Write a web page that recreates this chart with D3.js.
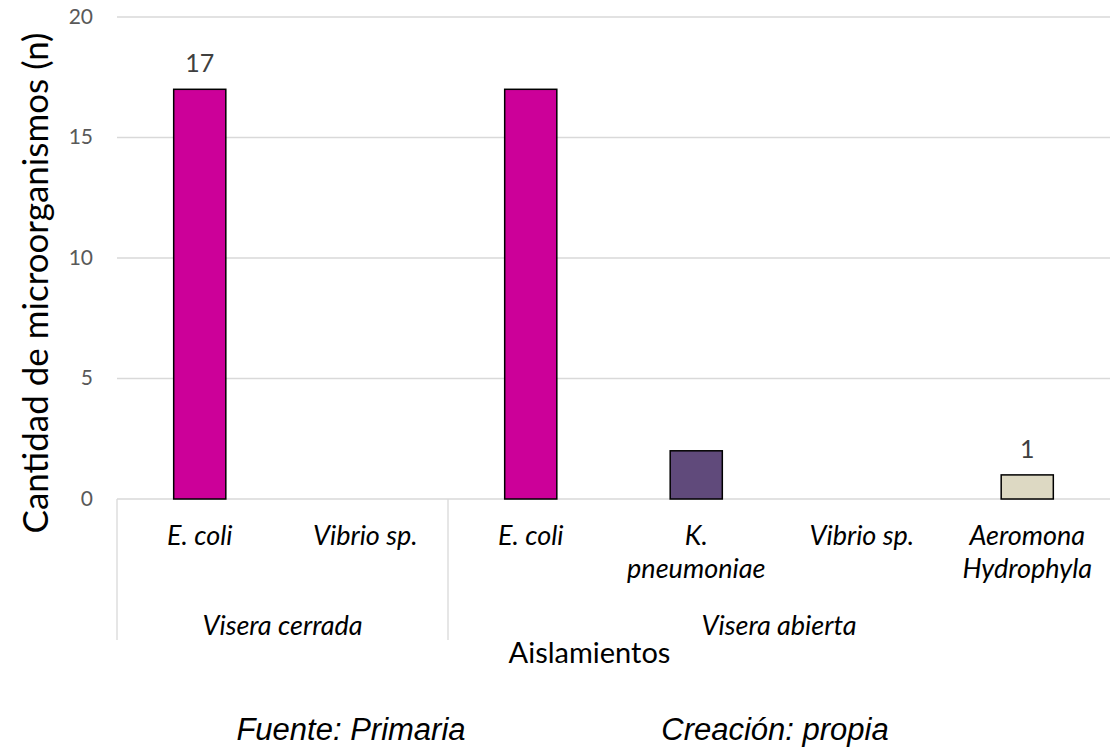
<!DOCTYPE html>
<meta charset='utf-8'>
<style>
    body { margin: 0; background: #fff; }
    text { font-family: Lato, 'Open Sans', sans-serif; }
    .foot { font-family: 'Liberation Sans', Arial, sans-serif; font-style: italic; }
</style>
<body>
<div id='chart'></div>
<script src='https://d3js.org/d3.v7.min.js'></script>
<script>
    // data
    const groups = [ 'Visera cerrada', 'Visera abierta' ];
    const groupOf = [ 0, 0, 1, 1, 1, 1 ];
    const categories = [ 'E. coli', 'Vibrio sp.', 'E. coli', 'K.|pneumoniae', 'Vibrio sp.', 'Aeromona|Hydrophyla' ];
    const counts = [ 17, 0, 17, 2, 0, 1 ];
    const barColors = [ '#cc0099', '#cc0099', '#cc0099', '#604a7b', '#cc0099', '#ddd9c3' ];
    const showLabel = [ true, false, false, false, false, true ];
    const yTicks = [ 0, 5, 10, 15, 20 ];

    const W = 1110, H = 750;
    const margin = { top: 17, left: 117, right: 0, bottom: 251 };
    const width = W - margin.left - margin.right,
        height = H - margin.top - margin.bottom;

    const svg = d3.select( '#chart' ).append( 'svg' )
        .attr( 'width', W ).attr( 'height', H );
    const g = svg.append( 'g' )
        .attr( 'transform', `translate( ${margin.left}, ${margin.top} )` );

    const ids = categories.map( ( c, i ) => i );
    const x = d3.scaleBand().domain( ids ).range( [0, width] ).paddingInner( 0.685 ).paddingOuter( 0.3425 );
    const y = d3.scaleLinear().domain( [0, 20] ).range( [height, 0] );

    // gridlines
    g.selectAll( '.grid' ).data( yTicks ).join( 'line' )
        .attr( 'x1', 0 ).attr( 'x2', width )
        .attr( 'y1', d => y( d ) ).attr( 'y2', d => y( d ) )
        .attr( 'stroke', '#d9d9d9' ).attr( 'stroke-width', 1.3 );

    // y axis labels
    const yAxis = d3.axisLeft( y ).tickValues( yTicks ).tickSize( 0 ).tickPadding( 24 );
    const yAxisEl = g.append( 'g' ).call( yAxis );
    yAxisEl.select( '.domain' ).remove();
    yAxisEl.selectAll( 'text' )
        .attr( 'dy', '0.3em' )
        .style( 'font-size', '21px' ).style( 'fill', '#595959' )
        .style( 'font-family', 'Lato, sans-serif' );

    // bars
    g.selectAll( '.bar' ).data( ids ).join( 'rect' )
        .attr( 'x', i => x( i ) )
        .attr( 'width', x.bandwidth() )
        .attr( 'y', i => y( counts[ i ] ) )
        .attr( 'height', i => y( 0 ) - y( counts[ i ] ) )
        .attr( 'fill', i => barColors[ i ] )
        .attr( 'stroke', i => counts[ i ] > 0 ? '#000' : 'none' )
        .attr( 'stroke-width', 1.5 );

    // value labels
    g.selectAll( '.val' ).data( ids.filter( i => showLabel[ i ] ) ).join( 'text' )
        .attr( 'x', i => x( i ) + x.bandwidth() / 2 )
        .attr( 'y', i => y( counts[ i ] ) - 17 )
        .attr( 'text-anchor', 'middle' )
        .style( 'font-size', '25px' ).style( 'fill', '#404040' )
        .text( i => counts[ i ] );

    // category labels
    const step = x.step();
    const catText = g.selectAll( '.cat' ).data( ids ).join( 'text' )
        .attr( 'text-anchor', 'middle' )
        .style( 'font-size', '27px' ).style( 'font-style', 'italic' ).style( 'fill', '#000' );
    catText.each( function( i ) {
        const lines = categories[ i ].split( '|' );
        const cx = x( i ) + x.bandwidth() / 2;
        d3.select( this ).selectAll( 'tspan' ).data( lines ).join( 'tspan' )
            .attr( 'x', cx )
            .attr( 'y', ( d, k ) => height + 46 + k * 33 )
            .text( d => d );
    } );

    // group separators and labels
    const groupStart = groups.map( ( gr, k ) => ids.findIndex( i => groupOf[ i ] === k ) );
    const groupEnd = groups.map( ( gr, k ) => ids.filter( i => groupOf[ i ] === k ).pop() );
    const sepX = groupStart.map( i => x( i ) - ( step - x.bandwidth() ) / 2 );
    g.selectAll( '.sep' ).data( sepX ).join( 'line' )
        .attr( 'x1', d => d ).attr( 'x2', d => d )
        .attr( 'y1', height ).attr( 'y2', height + 141 )
        .attr( 'stroke', '#d9d9d9' ).attr( 'stroke-width', 1.3 );

    g.selectAll( '.grp' ).data( groups ).join( 'text' )
        .attr( 'x', ( d, k ) => ( x( groupStart[ k ] ) + x( groupEnd[ k ] ) + x.bandwidth() ) / 2 )
        .attr( 'y', height + 136 )
        .attr( 'text-anchor', 'middle' )
        .style( 'font-size', '27px' ).style( 'font-style', 'italic' )
        .text( d => d );

    // axis titles
    g.append( 'text' )
        .attr( 'x', width / 2 - 24 ).attr( 'y', height + 164 )
        .attr( 'text-anchor', 'middle' )
        .style( 'font-size', '29px' )
        .text( 'Aislamientos' );

    svg.append( 'text' )
        .attr( 'transform', 'translate( 48, 283 ) rotate( -90 )' )
        .attr( 'text-anchor', 'middle' )
        .style( 'font-size', '35px' )
        .text( 'Cantidad de microorganismos (n)' );

    // footer
    svg.append( 'text' ).attr( 'class', 'foot' )
        .attr( 'x', 351 ).attr( 'y', 740 ).attr( 'text-anchor', 'middle' )
        .style( 'font-size', '31px' )
        .text( 'Fuente: Primaria' );
    svg.append( 'text' ).attr( 'class', 'foot' )
        .attr( 'x', 775 ).attr( 'y', 740 ).attr( 'text-anchor', 'middle' )
        .style( 'font-size', '31px' )
        .text( 'Creación: propia' );
</script>
</body>
